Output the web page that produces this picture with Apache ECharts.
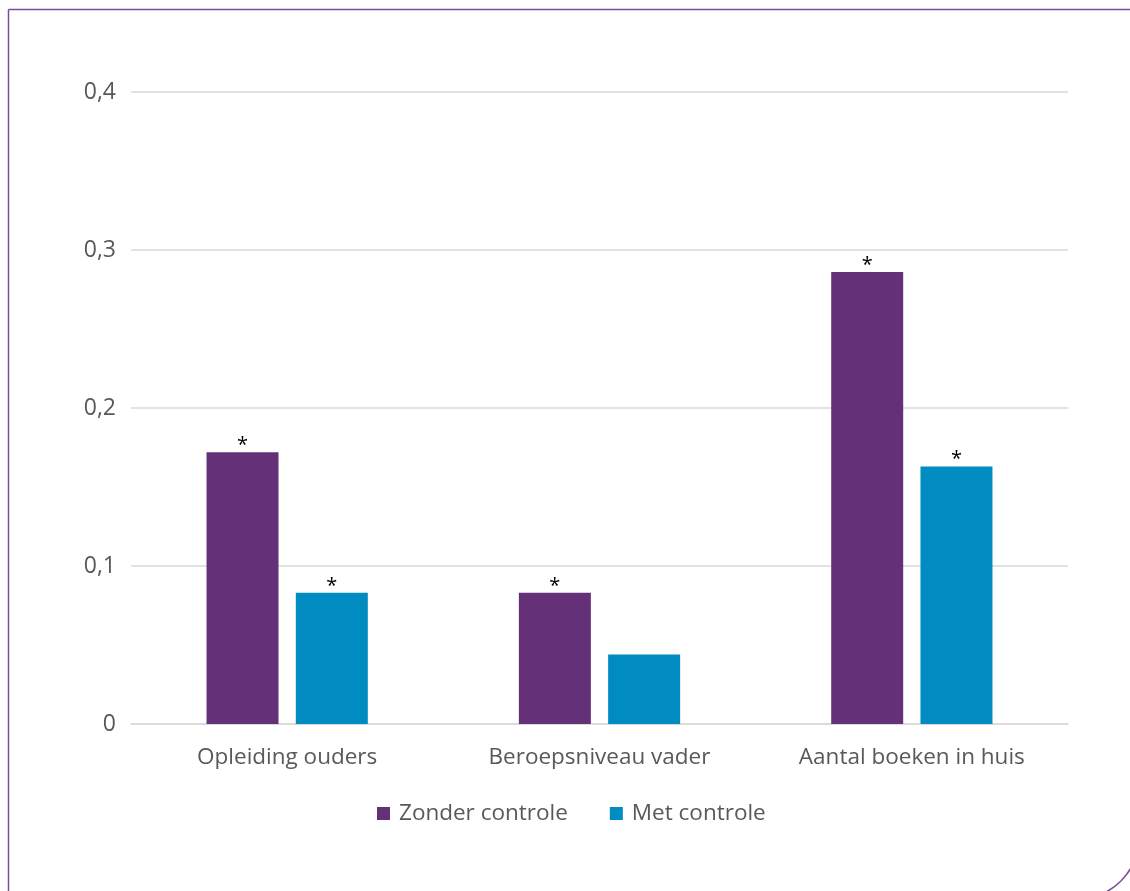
<!DOCTYPE html>
<html>
<head>
<meta charset="utf-8">
<style>
  html, body { margin: 0; padding: 0; background: #fff; }
  #main { width: 1130px; height: 891px; }
</style>
<script src="https://cdn.jsdelivr.net/npm/echarts@6/dist/echarts.min.js"></script>
</head>
<body>
<div id="main"></div>
<script>
// data
var categories = ['Opleiding ouders', 'Beroepsniveau vader', 'Aantal boeken in huis'];
var seriesNames = ['Zonder controle', 'Met controle'];
var zonderValues = [0.172, 0.083, 0.286];
var metValues = [0.083, 0.044, 0.163];
// significance marks above each bar
var zonderSig = ['*', '*', '*'];
var metSig = ['*', '', '*'];

var fontName = '"Open Sans", sans-serif';

function toData(values, sig) {
    var out = [];
    for (var i = 0; i < values.length; i++) {
        out.push({ value: values[i], label: { formatter: sig[i] } });
    }
    return out;
}

var chart = echarts.init(document.getElementById('main'));

var option = {
    backgroundColor: '#fff',
    textStyle: { fontFamily: fontName },
    graphic: [{
        type: 'rect',
        shape: { x: 8.5, y: 9.5, width: 1130, height: 889, r: [0, 0, 60, 0] },
        style: { fill: 'none', stroke: '#7b4c9b', lineWidth: 1.5 },
        silent: true
    }],
    grid: { left: 131, right: 62, top: 92, bottom: 167 },
    legend: {
        data: seriesNames,
        left: 372,
        top: 797,
        itemWidth: 13,
        itemHeight: 13,
        itemGap: 42,
        icon: 'rect',
        textStyle: { color: '#595959', fontSize: 22.5, fontFamily: fontName, padding: [0, 0, 0, 4] }
    },
    xAxis: {
        type: 'category',
        data: categories,
        axisLine: { lineStyle: { color: '#d9d9d9', width: 1.5 } },
        axisTick: { show: false },
        axisLabel: { color: '#595959', fontSize: 22.5, margin: 22, fontFamily: fontName }
    },
    yAxis: {
        type: 'value',
        min: 0,
        max: 0.4,
        interval: 0.1,
        axisLine: { show: false },
        axisTick: { show: false },
        splitLine: { lineStyle: { color: '#d9d9d9', width: 1.5 } },
        axisLabel: {
            color: '#595959',
            fontSize: 23,
            margin: 15,
            fontFamily: fontName,
            formatter: function (v) { return String(Math.round(v * 10) / 10).replace('.', ','); }
        }
    },
    series: [
        {
            name: seriesNames[0],
            type: 'bar',
            barWidth: 72,
            barGap: '24%',
            itemStyle: { color: '#643179' },
            label: { show: true, position: 'top', color: '#000', fontSize: 20, distance: -3 },
            data: toData(zonderValues, zonderSig)
        },
        {
            name: seriesNames[1],
            type: 'bar',
            barWidth: 72,
            itemStyle: { color: '#008cc0' },
            label: { show: true, position: 'top', color: '#000', fontSize: 20, distance: -3 },
            data: toData(metValues, metSig)
        }
    ]
};

chart.setOption(option);
</script>
</body>
</html>
